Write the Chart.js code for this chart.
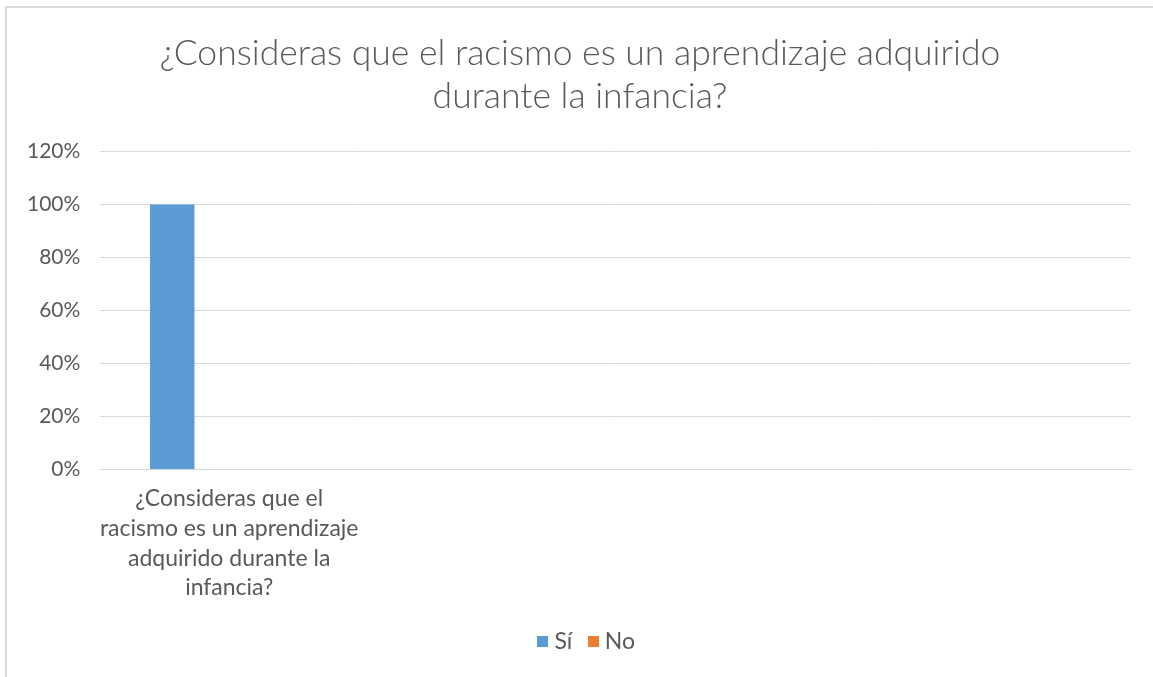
<!DOCTYPE html>
<html>
<head>
<meta charset="utf-8">
<script src="https://cdn.jsdelivr.net/npm/chart.js@4/dist/chart.umd.min.js"></script>
<style>
  html, body { margin: 0; padding: 0; background: #ffffff; }
  body { width: 1153px; height: 677px; position: relative; overflow: hidden; }
  #frame { position: absolute; left: 5px; top: 6px; right: 0; bottom: 0;
           border-left: 2px solid #d9d9d9; border-top: 2px solid #d9d9d9; background: #fff; }
  #wrap { position: absolute; left: 0; top: 0; right: 0; bottom: 0; }
</style>
</head>
<body>
<div id="frame"><div id="wrap"><canvas id="c"></canvas></div></div>
<script>
const chartTitle = ["¿Consideras que el racismo es un aprendizaje adquirido", "durante la infancia?"];
const categories = [
  ["¿Consideras que el", "racismo es un aprendizaje", "adquirido durante la", "infancia?"],
  "", "", ""
];
const seriesNames = ["Sí", "No"];
const siValues = [1.00, null, null, null];
const noValues = [0.00, null, null, null];
const seriesColors = ["#5B9BD5", "#ED7D31"];
const yTicks = { min: 0, max: 1.2, step: 0.2 };

const FONT = "Lato, 'Liberation Sans', sans-serif";
const TEXT = "#595959";

// small square legend swatches
function swatch(color) {
  const c = document.createElement('canvas');
  c.width = 11; c.height = 11;
  const g = c.getContext('2d');
  g.fillStyle = color; g.fillRect(0, 0, 11, 11);
  return c;
}

// Centre title on the whole chart box and nudge the legend like the original
const recentre = {
  id: 'recentre',
  afterLayout(chart) {
    const t = chart.titleBlock;
    if (t) { t.left = 0; t.right = chart.width; }
    const l = chart.legend;
    if (l) { l.left = 18; l.right = chart.width; }
  }
};

new Chart(document.getElementById('c'), {
  type: 'bar',
  data: {
    labels: categories,
    datasets: [
      { label: seriesNames[0], data: siValues, backgroundColor: seriesColors[0], borderWidth: 0 },
      { label: seriesNames[1], data: noValues, backgroundColor: seriesColors[1], borderWidth: 0 }
    ]
  },
  plugins: [recentre],
  options: {
    responsive: true,
    maintainAspectRatio: false,
    animation: false,
    categoryPercentage: 0.884,
    barPercentage: 0.39,
    layout: { padding: { left: 0, right: 22, top: 12, bottom: 14 } },
    plugins: {
      tooltip: { enabled: false },
      title: {
        display: true,
        text: chartTitle,
        color: TEXT,
        font: { family: FONT, size: 35.5, weight: '300', lineHeight: 1.22 },
        padding: { top: 12, bottom: 33 }
      },
      legend: {
        position: 'bottom',
        labels: {
          color: TEXT,
          font: { family: FONT, size: 23 },
          usePointStyle: true,
          boxWidth: 0.01, boxHeight: 11,
          padding: 21,
          generateLabels(chart) {
            const items = Chart.defaults.plugins.legend.labels.generateLabels(chart);
            items.forEach((it, i) => { it.pointStyle = swatch(seriesColors[i]); });
            return items;
          }
        }
      }
    },
    scales: {
      x: {
        grid: { display: false },
        border: { display: true, color: '#d9d9d9', width: 1 },
        ticks: {
          color: TEXT,
          font: { family: FONT, size: 23, lineHeight: 1.3 },
          maxRotation: 0, minRotation: 0, autoSkip: false,
          padding: 6
        }
      },
      y: {
        min: yTicks.min, max: yTicks.max,
        grid: { color: '#d9d9d9', lineWidth: 1, drawTicks: false },
        border: { display: false },
        ticks: {
          stepSize: yTicks.step,
          color: TEXT,
          font: { family: FONT, size: 21 },
          padding: 20,
          callback: v => Math.round(v * 100) + '%'
        }
      }
    }
  }
});
</script>
</body>
</html>
